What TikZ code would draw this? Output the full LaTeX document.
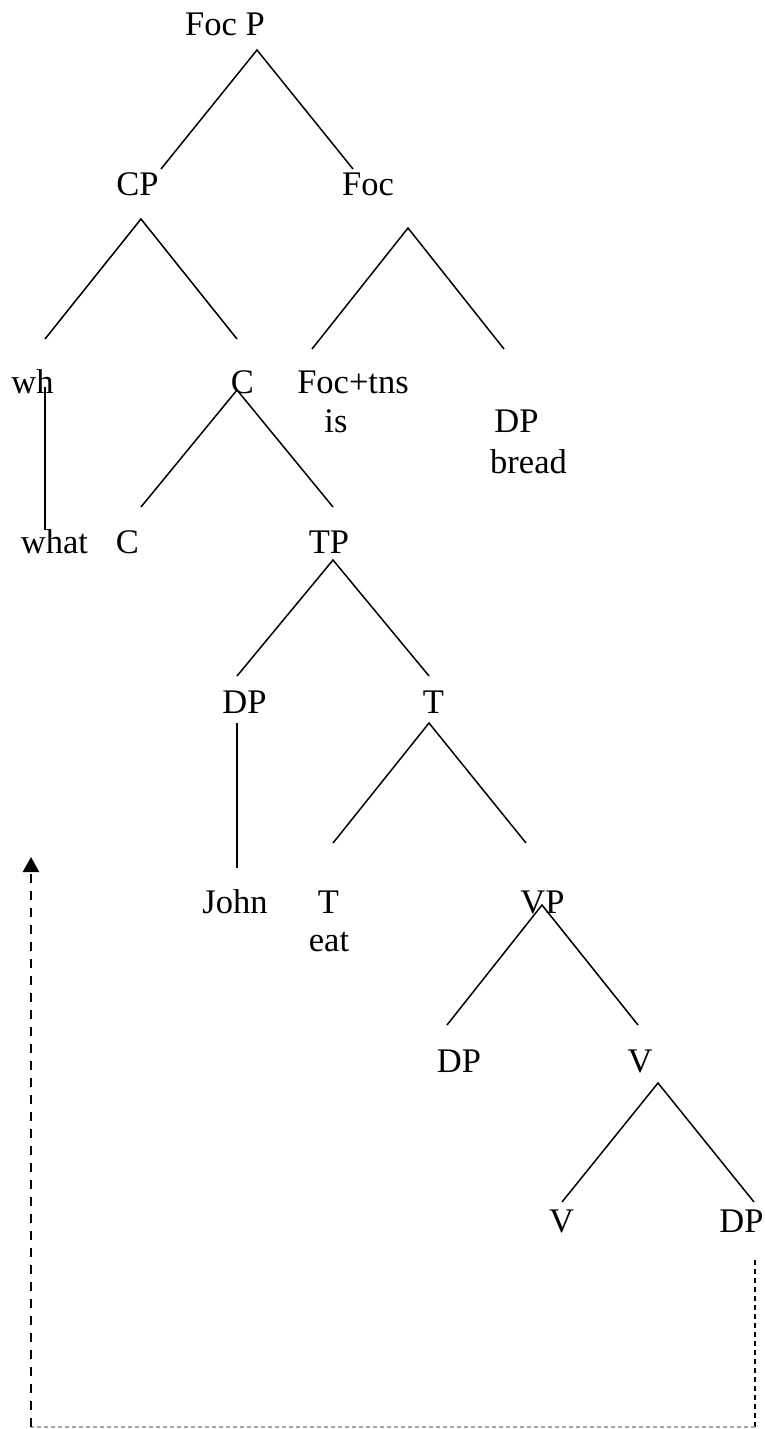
\documentclass[tikz,border=0pt]{standalone}
\usepackage{fontspec}
\setmainfont{Liberation Serif}
\usetikzlibrary{arrows.meta}

\tikzset{lbl/.style={anchor=base, inner sep=0pt, font=\fontsize{34.5}{40}\selectfont}}

\begin{document}
\begin{tikzpicture}[x=1pt, y=-1pt, line width=1.5pt]
        \useasboundingbox (0,0) rectangle (765,1429);

        \node[lbl] (focp) at (225,36) {Foc P};
        \node[lbl] (cp) at (137.5,195) {CP};
        \node[lbl] (foc) at (368,195) {Foc};
        \node[lbl] (wh) at (32.5,393) {wh};
        \node[lbl] (c1) at (242.5,393) {C};
        \node[lbl] (foctns) at (353,393) {Foc+tns};
        \node[lbl] (is) at (336,432) {is};
        \node[lbl] (dp1) at (516.5,432) {DP};
        \node[lbl] (bread) at (528.5,473) {bread};
        \node[lbl] (what) at (54.5,553) {what};
        \node[lbl] (c2) at (127.5,553) {C};
        \node[lbl] (tp) at (329,553) {TP};
        \node[lbl] (dp2) at (244.5,713) {DP};
        \node[lbl] (t1) at (433.5,713) {T};
        \node[lbl] (john) at (235,913) {John};
        \node[lbl] (t2) at (328.5,913) {T};
        \node[lbl] (eat) at (329,951) {eat};
        \node[lbl] (vp) at (542.5,913) {VP};
        \node[lbl] (dp3) at (459,1072) {DP};
        \node[lbl] (v1) at (640,1072) {V};
        \node[lbl] (v2) at (561.5,1232) {V};
        \node[lbl] (dp4) at (741.5,1232) {DP};

        \coordinate (focp-t) at (257,50);
        \coordinate (focp-l) at (161,169);
        \coordinate (focp-r) at (353,169);
        \coordinate (cp-t) at (141,219);
        \coordinate (cp-l) at (45,339);
        \coordinate (cp-r) at (237,339);
        \coordinate (foc-t) at (408,228);
        \coordinate (foc-l) at (312,349);
        \coordinate (foc-r) at (504,349);
        \coordinate (c1-t) at (237,390);
        \coordinate (c1-l) at (141,507);
        \coordinate (c1-r) at (333,507);
        \coordinate (wh-b) at (45,387);
        \coordinate (what-t) at (45,530);
        \coordinate (tp-t) at (333,560);
        \coordinate (tp-l) at (237,676);
        \coordinate (tp-r) at (429,676);
        \coordinate (dp2-b) at (237,723);
        \coordinate (john-t) at (237,868);
        \coordinate (t1-t) at (429,723);
        \coordinate (t1-l) at (333,843);
        \coordinate (t1-r) at (526,843);
        \coordinate (vp-t) at (542,905);
        \coordinate (vp-l) at (447,1025);
        \coordinate (vp-r) at (638,1025);
        \coordinate (v1-t) at (658,1083);
        \coordinate (v1-l) at (562,1202);
        \coordinate (v1-r) at (754,1202);

        \draw (focp-l) -- (focp-t) -- (focp-r);
        \draw (cp-l) -- (cp-t) -- (cp-r);
        \draw (foc-l) -- (foc-t) -- (foc-r);
        \draw (c1-l) -- (c1-t) -- (c1-r);
        \draw (wh-b) -- (what-t);
        \draw (tp-l) -- (tp-t) -- (tp-r);
        \draw (dp2-b) -- (john-t);
        \draw (t1-l) -- (t1-t) -- (t1-r);
        \draw (vp-l) -- (vp-t) -- (vp-r);
        \draw (v1-l) -- (v1-t) -- (v1-r);

        \begin{scope}
        \coordinate (mv1) at (755,1260);
        \coordinate (mv2) at (755,1427);
        \coordinate (mv3) at (31,1427);
        \coordinate (mv4) at (31,857);
        \draw[line width=1.3pt, dash pattern=on 5pt off 4pt] (mv1) -- (mv2);
        \draw[gray!70, line width=1.2pt, dash pattern=on 4pt off 3pt] (mv2) -- (mv3);
        \draw[line width=2.4pt, dash pattern=on 9pt off 8pt, -{Triangle[width=16pt,length=15pt]}] (mv3) -- (mv4);
        \end{scope}
        \end{tikzpicture}
\end{document}
